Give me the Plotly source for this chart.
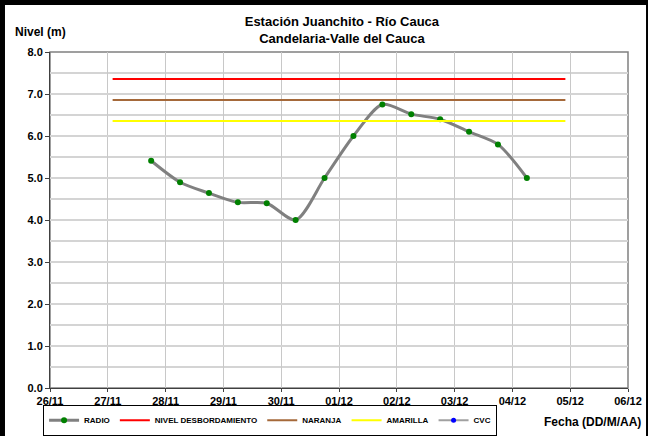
import plotly.graph_objects as go

# ---- data ----
radio_times = ["2011-11-27 18:00", "2011-11-28 06:00", "2011-11-28 18:00", "2011-11-29 06:00",
               "2011-11-29 18:00", "2011-11-30 06:00", "2011-11-30 18:00", "2011-12-01 06:00",
               "2011-12-01 18:00", "2011-12-02 06:00", "2011-12-02 18:00", "2011-12-03 06:00",
               "2011-12-03 18:00", "2011-12-04 06:00"]
radio_vals = [5.41, 4.90, 4.64, 4.42, 4.40, 4.00, 5.00, 6.00, 6.75, 6.52, 6.40, 6.10, 5.80, 5.00]

threshold_times = ["2011-11-27 02:00", "2011-12-04 22:00"]
nivel_desbordamiento = [7.36, 7.36]
naranja = [6.86, 6.86]
amarilla = [6.36, 6.36]

x_range = ["2011-11-26", "2011-12-06"]
y_range = [0, 8]

FONT = "Arial, Liberation Sans, sans-serif"

fig = go.Figure()
fig.add_trace(go.Scatter(x=radio_times, y=radio_vals, name="<b>RADIO</b>", mode="lines+markers",
                         line=dict(color="#808080", width=3, shape="spline", smoothing=0.8),
                         marker=dict(color="#008000", size=6)))
fig.add_trace(go.Scatter(x=threshold_times, y=nivel_desbordamiento, name="<b>NIVEL DESBORDAMIENTO</b>",
                         mode="lines", line=dict(color="#FF0000", width=2)))
fig.add_trace(go.Scatter(x=threshold_times, y=naranja, name="<b>NARANJA</b>",
                         mode="lines", line=dict(color="#A5693A", width=2)))
fig.add_trace(go.Scatter(x=threshold_times, y=amarilla, name="<b>AMARILLA</b>",
                         mode="lines", line=dict(color="#FFFF00", width=2)))
fig.add_trace(go.Scatter(x=[None], y=[None], name="<b>CVC</b>", mode="lines+markers",
                         line=dict(color="#A0A0A0", width=2), marker=dict(color="#0000FF", size=5)))

tickfont = dict(family=FONT, size=11, color="black", weight="bold")

fig.update_layout(
    width=648, height=436,
    margin=dict(l=50, r=20, t=52, b=48, autoexpand=False),
    paper_bgcolor="white", plot_bgcolor="white",
    font=dict(family=FONT, size=11, color="black"),
    title=dict(text="<b>Estación Juanchito - Río Cauca<br>Candelaria-Valle del Cauca</b>",
               x=0.505, xref="paper", xanchor="center", y=(436 - 26) / 436, yref="container",
               yanchor="top", font=dict(family=FONT, size=13, color="black")),
    showlegend=True,
    legend=dict(orientation="h", x=-0.012, y=-0.05, xanchor="left", yanchor="top",
                bordercolor="black", borderwidth=1, font=dict(family=FONT, size=8, color="black"),
                itemwidth=30, tracegroupgap=0),
    xaxis=dict(type="date", range=x_range, dtick=86400000, tick0="2011-11-26",
               tickformat="%d/%m", showgrid=True, gridcolor="#C8C8C8", gridwidth=1,
               showline=True, linecolor="#404040", linewidth=1, ticks="outside", ticklen=3,
               tickcolor="#404040", tickfont=tickfont, zeroline=False, fixedrange=True),
    yaxis=dict(range=y_range, dtick=1, tickformat=".1f", showgrid=True, gridcolor="#D4D4D4", gridwidth=1.5,
               minor=dict(dtick=0.5, showgrid=True, gridcolor="#D4D4D4", gridwidth=1.5),
               showline=True, linecolor="#404040", linewidth=1, ticks="outside", ticklen=4,
               tickcolor="#404040", tickfont=tickfont, zeroline=False, fixedrange=True),
)

# plot-area frame (top/right edges)
fig.add_shape(type="rect", xref="paper", yref="paper", x0=0, x1=1, y0=0, y1=1,
              line=dict(color="#808080", width=1.5), layer="below")
# outer border of the picture
fig.add_shape(type="line", xref="paper", yref="paper", x0=-0.0822, x1=-0.0822, y0=-0.15, y1=1.16,
              line=dict(color="black", width=5))
fig.add_shape(type="line", xref="paper", yref="paper", x0=-0.09, x1=1.04, y0=1.1473, y1=1.1473,
              line=dict(color="black", width=5))
fig.add_shape(type="line", xref="paper", yref="paper", x0=1.0329, x1=1.0329, y0=-0.15, y1=1.16,
              line=dict(color="black", width=2))

fig.add_annotation(text="<b>Nivel (m)</b>", xref="paper", yref="paper", x=(13 - 50) / 578, y=(388 - 32) / 336,
                   xanchor="left", yanchor="middle", showarrow=False,
                   font=dict(family=FONT, size=12, color="black"))
fig.add_annotation(text="<b>Fecha (DD/M/AA)</b>", xref="paper", yref="paper", x=(643 - 50) / 578,
                   y=(388 - 422) / 336, xanchor="right", yanchor="middle", showarrow=False,
                   font=dict(family=FONT, size=12, color="black"))

fig.write_html("out.html", config={"displayModeBar": False},
               post_script="document.body.style.margin='0';document.body.style.padding='0';")
